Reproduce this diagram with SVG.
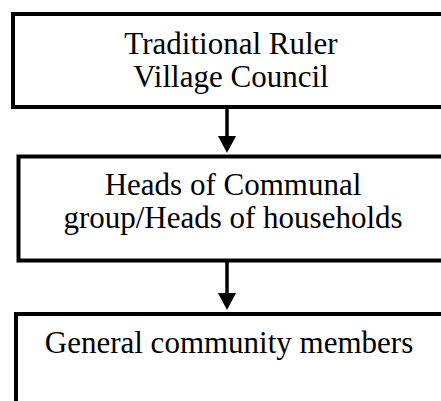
<svg xmlns="http://www.w3.org/2000/svg" width="441" height="401" viewBox="0 0 441 401">
<defs>
<style>
.box{fill:#fff;stroke:#000;stroke-width:4}
.lbl{font-family:"Liberation Serif","Times New Roman",serif;font-size:31px;fill:#000;text-anchor:middle}
.con{stroke:#000;stroke-width:3.5;fill:none}
.head{fill:#000}
</style>
</defs>
<rect width="441" height="401" fill="#fff"/>
<g id="node1">
<rect class="box" x="13" y="14" width="440" height="93"/>
<text class="lbl" x="231" y="54">Traditional Ruler</text>
<text class="lbl" x="231" y="87">Village Council</text>
</g>
<g id="node2">
<rect class="box" x="18.5" y="156.5" width="440" height="104"/>
<text class="lbl" x="233" y="195">Heads of Communal</text>
<text class="lbl" x="233" y="228">group/Heads of households</text>
</g>
<g id="node3">
<rect class="box" x="16" y="314" width="440" height="120"/>
<text class="lbl" x="229" y="353">General community members</text>
</g>
<g id="connectors">
<line class="con" x1="227" y1="109" x2="227" y2="137"/>
<path class="head" d="M218,136 L236,136 L227,153 Z"/>
<line class="con" x1="227" y1="262" x2="227" y2="294"/>
<path class="head" d="M218,293 L236,293 L227,310 Z"/>
</g>
</svg>
